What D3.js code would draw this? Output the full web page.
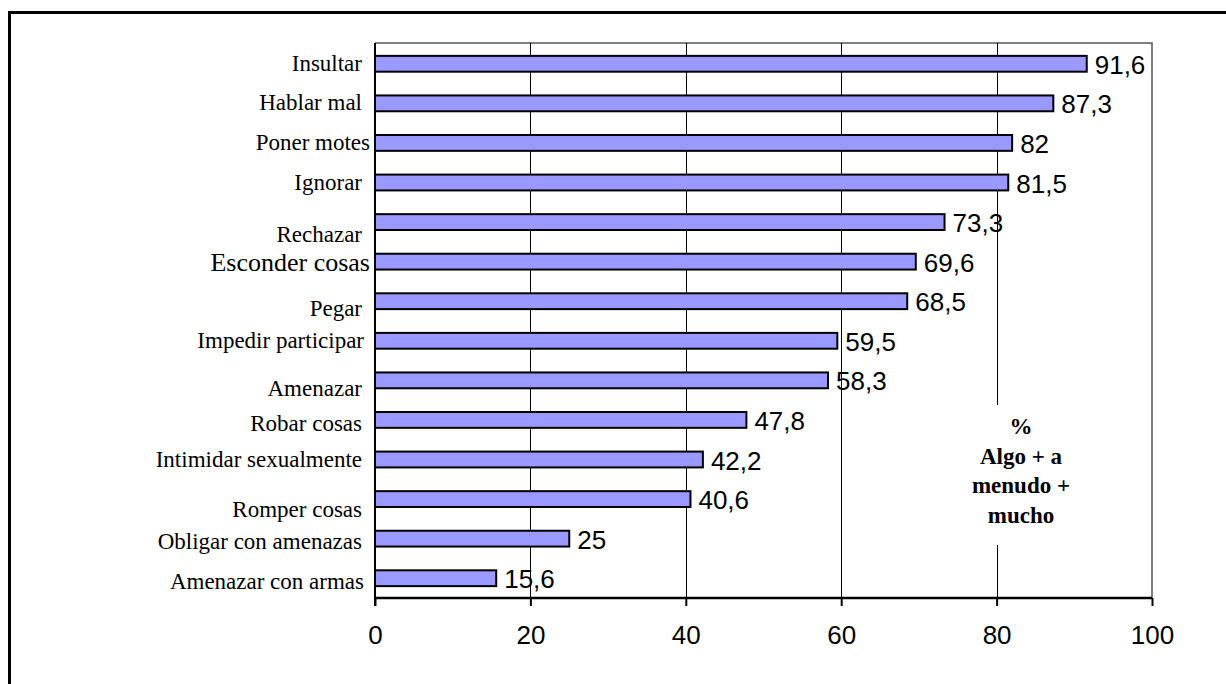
<!DOCTYPE html>
<html>
<head>
<meta charset="utf-8">
<script src="https://cdn.jsdelivr.net/npm/d3@7"></script>
<style>
  html, body { margin: 0; padding: 0; background: #fff; }
  svg { display: block; }
</style>
</head>
<body>
<svg id="chart" width="1226" height="684"></svg>
<script>
// ---- data ----
const categories = [
  "Insultar", "Hablar mal", "Poner motes", "Ignorar", "Rechazar",
  "Esconder cosas", "Pegar", "Impedir participar", "Amenazar",
  "Robar cosas", "Intimidar sexualmente", "Romper cosas",
  "Obligar con amenazas", "Amenazar con armas"
];
const values = [91.6, 87.3, 82, 81.5, 73.3, 69.6, 68.5, 59.5, 58.3, 47.8, 42.2, 40.6, 25, 15.6];
const valueLabels = ["91,6", "87,3", "82", "81,5", "73,3", "69,6", "68,5", "59,5", "58,3", "47,8", "42,2", "40,6", "25", "15,6"];
const xTicks = [0, 20, 40, 60, 80, 100];
const noteLines = ["%", "Algo + a", "menudo +", "mucho"];

// ---- layout ----
const svg = d3.select("#chart");
const plotL = 375, plotR = 1152, plotT = 43, plotB = 598;

const x = d3.scaleLinear().domain([0, 100]).range([plotL, plotR]);
const y = d3.scaleBand().domain(categories).range([plotT + 1, plotB])
  .paddingInner(0.6).paddingOuter(0.3);

// label tweaks (style only, mirrors original layout quirks)
const labelStyle = {
  "Rechazar": { dy: 13 },
  "Esconder cosas": { dy: 2, size: 26, x: 370 },
  "Poner motes": { x: 370 },
  "Pegar": { dy: 8 },
  "Amenazar": { dy: 9 },
  "Robar cosas": { dy: 4 },
  "Romper cosas": { dy: 11 },
  "Obligar con amenazas": { dy: 3 },
  "Amenazar con armas": { dy: 4, x: 364 },
  "Impedir participar": { x: 364 }
};

// outer frame
svg.append("rect")
  .attr("x", 9.5).attr("y", 12.5)
  .attr("width", 1250).attr("height", 700)
  .attr("fill", "none").attr("stroke", "#000").attr("stroke-width", 3);

// plot frame (top & right)
svg.append("path")
  .attr("d", `M${plotL},${plotT}H${plotR}V${plotB}`)
  .attr("fill", "none").attr("stroke", "#555").attr("stroke-width", 1.5);

// gridlines
svg.append("g").selectAll("line")
  .data(xTicks.filter(t => t > 0 && t < 100))
  .join("line")
  .attr("x1", d => Math.round(x(d)) + 0.5).attr("x2", d => Math.round(x(d)) + 0.5)
  .attr("y1", plotT).attr("y2", plotB)
  .attr("stroke", "#000").attr("stroke-width", 1);

// note box (white background interrupting the gridline)
svg.append("rect")
  .attr("x", 962).attr("y", 405).attr("width", 118).attr("height", 140)
  .attr("fill", "#fff");

const note = svg.append("text")
  .attr("font-family", "'Liberation Serif', 'Times New Roman', serif")
  .attr("font-weight", "bold").attr("font-size", 23)
  .attr("text-anchor", "middle").attr("fill", "#000");
note.selectAll("tspan").data(noteLines).join("tspan")
  .attr("x", 1021).attr("y", (d, i) => 434 + i * 29.7)
  .text(d => d);

// bars
svg.append("g").selectAll("rect")
  .data(values)
  .join("rect")
  .attr("x", x(0))
  .attr("y", (d, i) => y(categories[i]))
  .attr("width", d => x(d) - x(0))
  .attr("height", y.bandwidth())
  .attr("fill", "#9999ff")
  .attr("stroke", "#000").attr("stroke-width", 2);

// value labels
svg.append("g").selectAll("text")
  .data(values)
  .join("text")
  .attr("x", d => x(d) + 8)
  .attr("y", (d, i) => y(categories[i]) + y.bandwidth() / 2 + 10)
  .attr("font-family", "Arial, 'Liberation Sans', sans-serif")
  .attr("font-size", 26)
  .attr("fill", "#000")
  .text((d, i) => valueLabels[i]);

// category labels
svg.append("g").selectAll("text")
  .data(categories)
  .join("text")
  .attr("x", d => (labelStyle[d] && labelStyle[d].x) || 362)
  .attr("y", d => y(d) + y.bandwidth() / 2 + 7 + ((labelStyle[d] && labelStyle[d].dy) || 0))
  .attr("text-anchor", "end")
  .attr("font-family", "'Liberation Serif', 'Times New Roman', serif")
  .attr("font-size", d => (labelStyle[d] && labelStyle[d].size) || 23)
  .attr("fill", "#000")
  .text(d => d);

// x axis
const axis = d3.axisBottom(x).tickValues(xTicks).tickSize(8).tickPadding(20)
  .tickFormat(d3.format("d"));
const gx = svg.append("g").attr("transform", `translate(0,${plotB})`).call(axis);
gx.select(".domain").attr("stroke", "#000").attr("stroke-width", 2.5)
  .attr("d", `M${plotL},0H${plotR}`);
gx.selectAll(".tick line").attr("stroke", "#000").attr("stroke-width", 2);
gx.selectAll(".tick text")
  .attr("font-family", "Arial, 'Liberation Sans', sans-serif")
  .attr("font-size", 26).attr("fill", "#000");

// y axis line
svg.append("line")
  .attr("x1", plotL).attr("x2", plotL).attr("y1", plotT).attr("y2", plotB + 8)
  .attr("stroke", "#000").attr("stroke-width", 2);
</script>
</body>
</html>
